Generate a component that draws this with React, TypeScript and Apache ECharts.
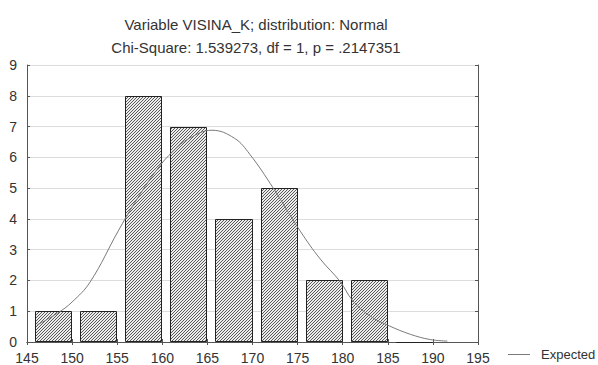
import React, { useEffect, useRef } from "react";
import * as echarts from "echarts";

const titleLine1 = "Variable VISINA_K; distribution: Normal";
const titleLine2 = "Chi-Square: 1.539273, df = 1, p = .2147351";

const binStarts = [145, 150, 155, 160, 165, 170, 175, 180, 185];
const binEnds = [150, 155, 160, 165, 170, 175, 180, 185, 190];
const counts = [1, 1, 8, 7, 4, 5, 2, 2, 0];

const expectedX = [146.1, 148.4, 150, 152, 155.1, 157, 159.4, 161.2, 163, 165.5, 168, 169.7, 172.3, 175.3, 177.5, 179.7, 181.1, 183, 185.2, 187.5, 189.7, 191.6];
const expectedY = [0.55, 0.94, 1.3, 1.95, 3.6, 4.55, 5.6, 6.2, 6.62, 6.88, 6.62, 6.1, 5.0, 3.6, 2.7, 1.97, 1.35, 0.85, 0.52, 0.25, 0.08, 0.03];

const xTicks = { min: 145, max: 195, step: 5 };
const yTicks = { min: 0, max: 9, step: 1 };

function makeHatch(): HTMLCanvasElement {
  const c = document.createElement("canvas");
  c.width = 3;
  c.height = 3;
  const ctx = c.getContext("2d")!;
  ctx.fillStyle = "#ececec";
  ctx.fillRect(0, 0, 3, 3);
  ctx.fillStyle = "#5a5a5a";
  for (let i = 0; i < 3; i++) ctx.fillRect(i, 2 - i, 1, 1);
  return c;
}

export default function App() {
  const ref = useRef<HTMLDivElement>(null);
  useEffect(() => {
    document.body.style.margin = "0";
    const chart = echarts.init(ref.current!, null, { renderer: "svg" });
    const hatchUrl = makeHatch().toDataURL();
    const font = "Liberation Sans, Arial, sans-serif";
    const frame = "#555";
    const bins = binStarts.map((s, i) => [s, binEnds[i], counts[i]]);
    const curve = expectedX.map((x, i) => [x, expectedY[i]]);
    chart.setOption({
      animation: false,
      backgroundColor: "#fff",
      title: [
        { text: titleLine1, left: 251, top: 12, textAlign: "center", textStyle: { fontFamily: font, fontSize: 15, fontWeight: "normal", color: "#333" } },
        { text: titleLine2, left: 251, top: 35, textAlign: "center", textStyle: { fontFamily: font, fontSize: 15, fontWeight: "normal", color: "#333" } },
      ],
      legend: {
        data: ["Expected"],
        left: 503,
        top: 343,
        icon: "rect",
        itemWidth: 22,
        itemHeight: 1,
        itemGap: 5,
        textStyle: { fontFamily: font, fontSize: 13, color: "#333", padding: [0, 0, 0, 6] },
      },
      grid: { left: 27, top: 65, right: 120, bottom: 21, containLabel: false },
      xAxis: [
        {
          type: "value", min: xTicks.min, max: xTicks.max, interval: xTicks.step, position: "bottom",
          axisLine: { show: true, lineStyle: { color: frame } },
          axisTick: { show: true, inside: true, length: 3, lineStyle: { color: frame } },
          axisLabel: { fontFamily: font, fontSize: 14, color: "#333", margin: 9 },
          splitLine: { show: false },
        },
        {
          type: "value", min: xTicks.min, max: xTicks.max, interval: xTicks.step, position: "top",
          axisLine: { show: true, lineStyle: { color: frame } },
          axisTick: { show: true, inside: true, length: 3, lineStyle: { color: frame } },
          axisLabel: { show: false },
          splitLine: { show: false },
        },
      ],
      yAxis: [
        {
          type: "value", min: yTicks.min, max: yTicks.max, interval: yTicks.step, position: "left",
          axisLine: { show: true, lineStyle: { color: frame } },
          axisTick: { show: true, inside: true, length: 3, lineStyle: { color: frame } },
          axisLabel: { fontFamily: font, fontSize: 14, color: "#333", margin: 10 },
          splitLine: { show: true, lineStyle: { color: "#dcdcdc", width: 1 } },
        },
        {
          type: "value", min: yTicks.min, max: yTicks.max, interval: yTicks.step, position: "right",
          axisLine: { show: true, lineStyle: { color: frame } },
          axisTick: { show: true, inside: true, length: 3, lineStyle: { color: frame } },
          axisLabel: { show: false },
          splitLine: { show: false },
        },
      ],
      series: [
        {
          type: "custom",
          name: "Observed",
          xAxisIndex: 0,
          yAxisIndex: 0,
          data: bins,
          encode: { x: [0, 1], y: 2 },
          z: 2,
          renderItem: (params: any, api: any) => {
            const lo = api.value(0);
            const hi = api.value(1);
            const c = api.value(2);
            const p1 = api.coord([lo, c]);
            const p2 = api.coord([hi, 0]);
            const x = Math.round(p1[0] + 8) + 0.5;
            const r = Math.round(p2[0]) - 0.5;
            const top = Math.round(p1[1]) + 0.5;
            const bottom = Math.round(p2[1]) - 0.5;
            return {
              type: "rect",
              shape: { x, y: top, width: r - x, height: Math.max(bottom - top, 0) },
              style: {
                fill: { image: hatchUrl, repeat: "repeat" },
                stroke: "#222",
                lineWidth: 1,
              },
            };
          },
        },
        {
          type: "line",
          name: "Expected",
          xAxisIndex: 0,
          yAxisIndex: 0,
          data: curve,
          smooth: 0.4,
          showSymbol: false,
          symbol: "none",
          z: 3,
          color: "#7a7a7a",
          lineStyle: { color: "#7a7a7a", width: 1 },
        },
      ],
    });
    return () => chart.dispose();
  }, []);
  return <div ref={ref} style={{ width: 598, height: 365, position: "absolute", left: 0, top: 0 }} />;
}
